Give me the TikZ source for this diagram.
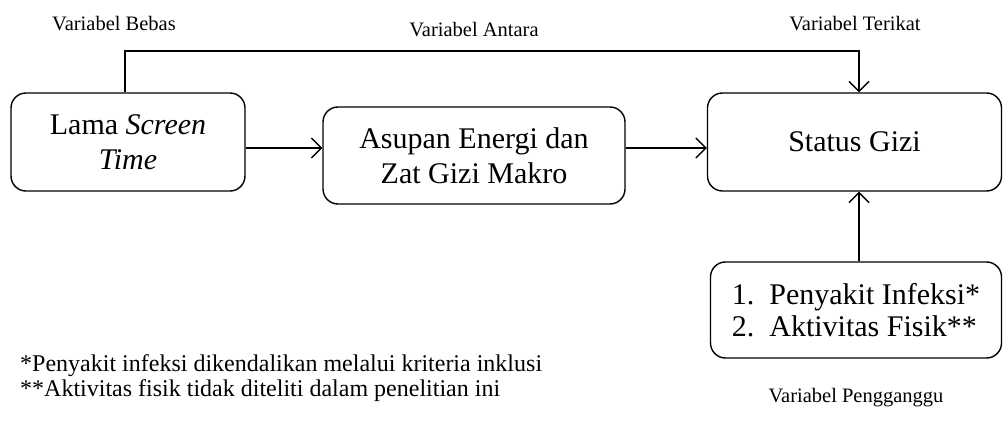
\documentclass[tikz,border=0pt]{standalone}
\usepackage{fontspec}
\setmainfont{Liberation Serif}
\usetikzlibrary{arrows.meta}
\begin{document}
\begin{tikzpicture}[x=1pt,y=-1pt,
  box/.style={draw,line width=1.4pt,rounded corners=15pt,align=center,inner sep=0pt,
    font=\fontsize{30}{35}\selectfont},
  lbl/.style={inner sep=0pt,font=\fontsize{20.5}{25}\selectfont},
  foot/.style={inner sep=0pt,font=\fontsize{24}{25}\selectfont,anchor=base west},
  conn/.style={line width=1.4pt},
  arr/.style={conn,-{Straight Barb[length=10pt,width=20pt,line width=1.4pt]}}]
\useasboundingbox (0,0) rectangle (1003,430);
\node[box,minimum width=234pt,minimum height=98pt] (lama) at (128,142) {Lama \textit{Screen}\\\textit{Time}};
\node[box,minimum width=302pt,minimum height=97pt] (asupan) at (474,155.5) {Asupan Energi dan\\Zat Gizi Makro};
\node[box,minimum width=294pt,minimum height=98pt] (status) at (854.5,142) {Status Gizi};
\node[box,minimum width=291pt,minimum height=96pt,align=left,font=\fontsize{30}{32}\selectfont] (ganggu) at (856,310) {1.\enspace Penyakit Infeksi*\\2.\enspace Aktivitas Fisik**};
\node[lbl] (lbebas) at (114,24) {Variabel Bebas};
\node[lbl] (lantara) at (474,30) {Variabel Antara};
\node[lbl] (lterikat) at (855,24) {Variabel Terikat};
\node[lbl] (lganggu) at (856,398) {Variabel Pengganggu};
\node[foot] (f1) at (20,371) {*Penyakit infeksi dikendalikan melalui kriteria inklusi};
\node[foot] (f2) at (20,396) {**Aktivitas fisik tidak diteliti dalam penelitian ini};
\coordinate (ya) at (0,148);
\coordinate (xl) at (125,0);
\coordinate (xr) at (859,0);
\coordinate (ytop) at (0,51);
\draw[arr] (lama.east |- ya) -- (asupan.west |- ya);
\draw[arr] (asupan.east |- ya) -- (status.west |- ya);
\draw[arr] (lama.north -| xl) -- (xl |- ytop) -- (xr |- ytop) -- (status.north -| xr);
\draw[arr] (ganggu.north -| xr) -- (status.south -| xr);
\end{tikzpicture}
\end{document}
